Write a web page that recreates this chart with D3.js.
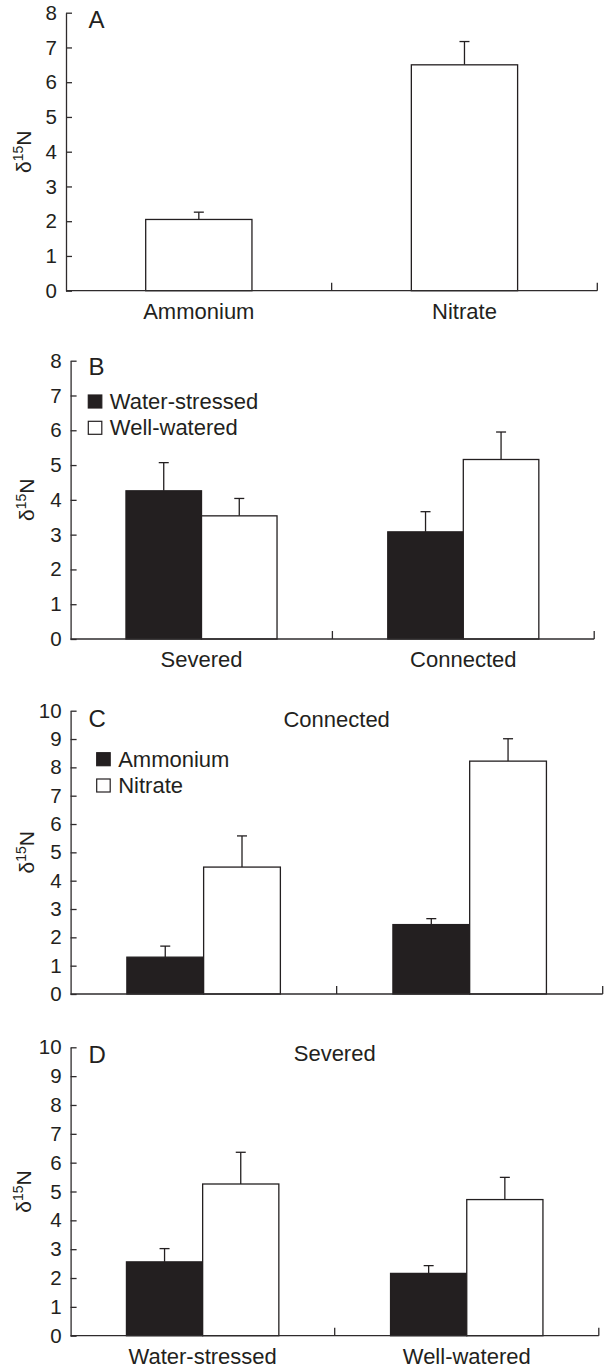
<!DOCTYPE html>
<html>
<head>
<meta charset="utf-8">
<script src="https://cdn.jsdelivr.net/npm/d3@7"></script>
<style>
  html, body { margin: 0; padding: 0; background: #fff; }
  svg { display: block; }
  text { font-family: "Liberation Sans", Arial, Helvetica, sans-serif; fill: #231f20; }
</style>
</head>
<body>
<svg id="chart" width="605" height="1369"></svg>
<script>
// ---------- DATA ----------
// Panel A
const aCategories = ["Ammonium", "Nitrate"];
const aValues = [2.05, 6.5];
const aErrors = [0.21, 0.67];
const aTicks = [0, 1, 2, 3, 4, 5, 6, 7, 8];

// Panel B
const bCategories = ["Severed", "Connected"];
const bSeries = ["Water-stressed", "Well-watered"];
const bWaterStressed = [4.26, 3.08];
const bWaterStressedErr = [0.81, 0.58];
const bWellWatered = [3.54, 5.16];
const bWellWateredErr = [0.50, 0.79];
const bTicks = [0, 1, 2, 3, 4, 5, 6, 7, 8];

// Panel C (Connected)
const cCategories = ["Water-stressed", "Well-watered"];
const cSeries = ["Ammonium", "Nitrate"];
const cAmmonium = [1.30, 2.45];
const cAmmoniumErr = [0.39, 0.21];
const cNitrate = [4.48, 8.22];
const cNitrateErr = [1.10, 0.79];
const cTicks = [0, 1, 2, 3, 4, 5, 6, 7, 8, 9, 10];

// Panel D (Severed)
const dCategories = ["Water-stressed", "Well-watered"];
const dAmmonium = [2.56, 2.16];
const dAmmoniumErr = [0.46, 0.27];
const dNitrate = [5.26, 4.72];
const dNitrateErr = [1.10, 0.77];
const dTicks = [0, 1, 2, 3, 4, 5, 6, 7, 8, 9, 10];

// ---------- DRAWING ----------
const INK = "#231f20";
const AXIS = "#2e2b2c";
const FONT = '"Liberation Sans", Arial, sans-serif';
const svg = d3.select("#chart");

function panel(opts) {
  const g = svg.append("g");
  const y = d3.scaleLinear().domain([0, opts.ymax]).range([opts.y0, opts.y1]);
  const x = d3.scaleBand().domain(opts.categories).range([opts.x0, opts.x1]).padding(0);
  const groupW = x.bandwidth() * opts.groupFrac;
  const sub = d3.scaleBand().domain(opts.series.map(s => s.name))
    .range([0, groupW]).padding(0);

  // bars with error bars
  opts.series.forEach(s => {
    opts.categories.forEach((c, i) => {
      const bx = x(c) + (x.bandwidth() - groupW) / 2 + sub(s.name);
      const v = s.values[i];
      const e = s.errors[i];
      const cx = bx + sub.bandwidth() / 2;
      g.append("line").attr("x1", cx).attr("x2", cx)
        .attr("y1", y(v)).attr("y2", y(v + e))
        .attr("stroke", INK).attr("stroke-width", 1.3);
      g.append("line").attr("x1", cx - 5).attr("x2", cx + 5)
        .attr("y1", y(v + e)).attr("y2", y(v + e))
        .attr("stroke", INK).attr("stroke-width", 1.3);
      g.append("rect")
        .attr("x", bx).attr("y", y(v))
        .attr("width", sub.bandwidth()).attr("height", y(0) - y(v))
        .attr("fill", s.fill).attr("stroke", INK).attr("stroke-width", 1.3);
    });
  });

  // y axis (ticks inward)
  const ya = g.append("g").attr("transform", `translate(${opts.x0},0)`)
    .call(d3.axisLeft(y).tickValues(opts.ticks).tickFormat(d3.format("d"))
      .tickSize(-6).tickSizeOuter(0).tickPadding(9));
  ya.select(".domain").attr("stroke", AXIS).attr("stroke-width", 1.3);
  ya.selectAll(".tick line").attr("stroke", AXIS).attr("stroke-width", 1.3);
  ya.selectAll(".tick text").attr("font-size", 20.5).attr("fill", INK)
    .style("font-family", FONT);

  // x axis baseline + boundary ticks (inward)
  g.append("line").attr("x1", opts.x0).attr("x2", opts.x1)
    .attr("y1", y(0)).attr("y2", y(0))
    .attr("stroke", AXIS).attr("stroke-width", 1.3);
  opts.categories.forEach(c => {
    const bxr = x(c) + x.bandwidth();
    g.append("line").attr("x1", bxr).attr("x2", bxr)
      .attr("y1", y(0)).attr("y2", y(0) - 8)
      .attr("stroke", AXIS).attr("stroke-width", 1.3);
  });

  // category labels
  if (opts.showCats) {
    const xa = g.append("g").attr("transform", `translate(0,${y(0)})`)
      .call(d3.axisBottom(x).tickSize(0).tickPadding(12.5));
    xa.select(".domain").remove();
    xa.selectAll(".tick text").attr("font-size", 22).attr("fill", INK)
      .style("font-family", FONT);
  }

  // y label
  const yl = g.append("text")
    .attr("transform", `translate(${opts.ylabX},${(opts.y0 + opts.y1) / 2}) rotate(-90)`)
    .attr("text-anchor", "middle").attr("font-size", 21);
  yl.append("tspan").text("δ");
  yl.append("tspan").attr("font-size", 14).attr("dy", -8).text("15");
  yl.append("tspan").attr("dy", 8).text("N");

  // panel letter
  g.append("text").attr("x", 88.5).attr("y", opts.letterY)
    .attr("font-size", 24).text(opts.letter);

  // title
  if (opts.title) {
    g.append("text").attr("x", x(opts.categories[0]) + x.bandwidth())
      .attr("y", opts.titleY).attr("text-anchor", "middle")
      .attr("font-size", 22).text(opts.title);
  }

  // legend
  if (opts.legend) {
    opts.series.forEach((s, i) => {
      const ly = opts.legendY + i * 26.3;
      g.append("rect").attr("x", opts.legendX).attr("y", ly - 14)
        .attr("width", 13.5).attr("height", 13)
        .attr("fill", s.fill).attr("stroke", INK).attr("stroke-width", 1.2);
      g.append("text").attr("x", opts.legendX + 21.5).attr("y", ly)
        .attr("font-size", 22).text(s.name);
    });
  }
}

// Panel A
panel({
  categories: aCategories,
  series: [{ name: "value", values: aValues, errors: aErrors, fill: "#fff" }],
  groupFrac: 0.4, ymax: 8, ticks: aTicks,
  x0: 66, x1: 597.3, y0: 290.7, y1: 12.7,
  showCats: true, ylabX: 31, letter: "A", letterY: 27.5
});

// Panel B
panel({
  categories: bCategories,
  series: [
    { name: bSeries[0], values: bWaterStressed, errors: bWaterStressedErr, fill: INK },
    { name: bSeries[1], values: bWellWatered, errors: bWellWateredErr, fill: "#fff" }
  ],
  groupFrac: 0.577, ymax: 8, ticks: bTicks,
  x0: 70.6, x1: 594.2, y0: 639, y1: 360.7,
  showCats: true, ylabX: 34, letter: "B", letterY: 375,
  legend: true, legendX: 88.3, legendY: 409
});

// Panel C
panel({
  categories: cCategories,
  series: [
    { name: cSeries[0], values: cAmmonium, errors: cAmmoniumErr, fill: INK },
    { name: cSeries[1], values: cNitrate, errors: cNitrateErr, fill: "#fff" }
  ],
  groupFrac: 0.577, ymax: 10, ticks: cTicks,
  x0: 70.6, x1: 602.7, y0: 994, y1: 710.7,
  showCats: false, ylabX: 34, letter: "C", letterY: 727,
  title: "Connected", titleY: 727,
  legend: true, legendX: 96.7, legendY: 766.7
});

// Panel D
panel({
  categories: dCategories,
  series: [
    { name: cSeries[0], values: dAmmonium, errors: dAmmoniumErr, fill: INK },
    { name: cSeries[1], values: dNitrate, errors: dNitrateErr, fill: "#fff" }
  ],
  groupFrac: 0.577, ymax: 10, ticks: dTicks,
  x0: 70.6, x1: 598.8, y0: 1335.7, y1: 1047.3,
  showCats: true, ylabX: 31, letter: "D", letterY: 1063,
  title: "Severed", titleY: 1061
});
</script>
</body>
</html>
